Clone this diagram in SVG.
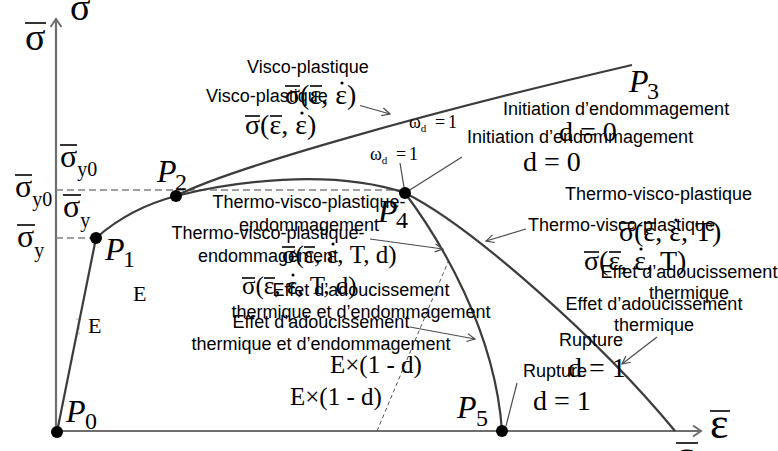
<svg xmlns="http://www.w3.org/2000/svg" width="778" height="451" viewBox="0 0 778 451">
<style>
.s{font-family:"Liberation Sans",Arial,sans-serif;font-size:18px;fill:#000}
.c{text-anchor:middle}
.m{font-family:"Liberation Serif","Times New Roman",serif;fill:#000}
.p{font-family:"Liberation Serif","Times New Roman",serif;font-style:italic;font-size:32px;fill:#000}
.sub{font-family:"Liberation Serif","Times New Roman",serif;font-size:24px;fill:#000}
.bar{stroke:#000;stroke-width:1.6}
.ax{stroke:#6e6e6e;stroke-width:2.2;fill:none}
.cv{stroke:#3c3c3c;stroke-width:2.2;fill:none}
.ld{stroke:#4a4a4a;stroke-width:1.2;fill:none}
.dh{stroke:#808080;stroke-width:1.6;stroke-dasharray:7 4;fill:none}
.dot{fill:#000}
</style>
<defs>
<marker id="ah" markerWidth="10" markerHeight="10" refX="9" refY="5" orient="auto" markerUnits="userSpaceOnUse"><path d="M1,1 L9,5 L1,9" fill="none" stroke="#4a4a4a" stroke-width="1.2"/></marker>
<marker id="axh" markerWidth="14" markerHeight="14" refX="12" refY="7" orient="auto" markerUnits="userSpaceOnUse"><path d="M4,1.5 L12,7 L4,12.5" fill="none" stroke="#6e6e6e" stroke-width="2"/></marker>
</defs>

<g id="axes">
<path class="ax" d="M56,432 V19" marker-end="url(#axh)"/>
<path class="ax" d="M56,431 H701" marker-end="url(#axh)"/>
</g>

<g id="connectors">
<path class="dh" d="M56,190 H405"/>
<path class="dh" d="M56,238 H96"/>
<path d="M377,431 L448,262" fill="none" stroke="#555" stroke-width="1" stroke-dasharray="4 3"/>
<path d="M76,319 H81 M79,322 V335" fill="none" stroke="#bbb" stroke-width="1" stroke-dasharray="3 2"/>
<path class="cv" d="M57,432 L96,238"/>
<path class="cv" d="M96,238 Q130,208 176,196 C230,182 330,168 405,193"/>
<path class="cv" d="M176,196 C230,168 430,112 632,65"/>
<path class="cv" d="M405,193 C440,240 495,330 502,431"/>
<path class="cv" d="M405,193 C470,225 600,340 675,431"/>
<path class="ld" d="M360,105.5 L390,114" marker-end="url(#ah)"/>
<path class="ld" d="M462,157 L405,193"/>
<path class="ld" d="M400,163 L405,193"/>
<path class="ld" d="M370,239 L443,249" marker-end="url(#ah)"/>
<path class="ld" d="M526,229 L486,241" marker-end="url(#ah)"/>
<path class="ld" d="M410,327 L475,339" marker-end="url(#ah)"/>
<path class="ld" d="M657,337 L622,364" marker-end="url(#ah)"/>
<path class="ld" d="M517,383 L506,426"/>
</g>

<g id="axis-labels">
<g transform="translate(70,20)"><text class="m" font-size="38">σ</text><line class="bar" x1="0" y1="-27" x2="21" y2="-27"/></g>
<g transform="translate(25,50)"><text class="m" font-size="38">σ</text><line class="bar" x1="0" y1="-27" x2="21" y2="-27"/></g>
<g transform="translate(710,438)"><text class="m" font-size="44">ε</text><line class="bar" x1="0" y1="-27" x2="20" y2="-27"/></g>
<g transform="translate(676,470)"><text class="m" font-size="44">ε</text><line class="bar" x1="0" y1="-27" x2="22" y2="-27"/></g>
<g transform="translate(60,167)"><text class="m" font-size="32">σ<tspan font-size="20" dy="9">y0</tspan></text><line class="bar" x1="0" y1="-22" x2="17" y2="-22"/></g>
<g transform="translate(15,197)"><text class="m" font-size="32">σ<tspan font-size="20" dy="9">y0</tspan></text><line class="bar" x1="0" y1="-22" x2="17" y2="-22"/></g>
<g transform="translate(63,217)"><text class="m" font-size="32">σ<tspan font-size="20" dy="10">y</tspan></text><line class="bar" x1="0" y1="-22" x2="18" y2="-22"/></g>
<g transform="translate(17,247)"><text class="m" font-size="32">σ<tspan font-size="20" dy="10">y</tspan></text><line class="bar" x1="0" y1="-22" x2="18" y2="-22"/></g>
</g>

<g id="P0"><circle class="dot" cx="57" cy="432" r="6"/><text class="p" x="66" y="422">P</text><text class="sub" x="85" y="429">0</text></g>
<g id="P1"><circle class="dot" cx="96" cy="238" r="6"/><text class="p" x="105" y="260">P</text><text class="sub" x="123" y="267">1</text></g>
<g id="P2"><circle class="dot" cx="176" cy="196" r="6"/><text class="p" x="157" y="182">P</text><text class="sub" x="175" y="190">2</text></g>
<g id="P3"><text class="p" x="629" y="92">P</text><text class="sub" x="647" y="99">3</text></g>
<g id="P4"><text class="p" x="378" y="222">P</text><text class="sub" x="396" y="228">4</text><circle class="dot" cx="405" cy="193" r="6"/></g>
<g id="P5"><circle class="dot" cx="502" cy="431" r="6"/><text class="p" x="457" y="418">P</text><text class="sub" x="476" y="426">5</text></g>

<g id="visco-plastique">
<text class="s" x="247" y="73">Visco-plastique</text>
<text class="s" x="206" y="102">Visco-plastique</text>
<g transform="translate(285,104)"><text class="m" font-size="28">σ(ε, ε)</text><line class="bar" x1="0" y1="-18" x2="15" y2="-18"/><line class="bar" x1="25" y1="-18" x2="37" y2="-18"/><circle cx="57" cy="-21" r="1.6"/></g>
<g transform="translate(245,134)"><text class="m" font-size="28">σ(ε, ε)</text><line class="bar" x1="0" y1="-18" x2="15" y2="-18"/><line class="bar" x1="25" y1="-18" x2="37" y2="-18"/><circle cx="57" cy="-21" r="1.6"/></g>
</g>

<g id="omega">
<text class="m" font-size="18" x="409" y="128">ω<tspan font-size="11" dy="4">d</tspan><tspan x="435" dy="-4">=</tspan><tspan x="448">1</tspan></text>
<text class="m" font-size="18" x="370" y="160">ω<tspan font-size="11" dy="4">d</tspan><tspan x="396" dy="-4">=</tspan><tspan x="409">1</tspan></text>
</g>

<g id="initiation">
<text class="s" x="503" y="115">Initiation d’endommagement</text>
<text class="m" font-size="28" x="559" y="141">d = 0</text>
<text class="s" x="467" y="143">Initiation d’endommagement</text>
<text class="m" font-size="28" x="523" y="171">d = 0</text>
</g>

<g id="tvp-endommagement">
<text class="s c" x="309" y="208">Thermo-visco-plastique-</text>
<text class="s c" x="309" y="231">endommagement</text>
<text class="s c" x="268" y="239">Thermo-visco-plastique-</text>
<text class="s c" x="268" y="262">endommagement</text>
<g transform="translate(282,263)"><text class="m" font-size="25">σ(ε, ε, T, d)</text><line class="bar" x1="0" y1="-16" x2="13" y2="-16"/><line class="bar" x1="22" y1="-16" x2="33" y2="-16"/><circle cx="51" cy="-19" r="1.5"/></g>
<g transform="translate(242,294)"><text class="m" font-size="25">σ(ε, ε, T, d)</text><line class="bar" x1="0" y1="-16" x2="13" y2="-16"/><line class="bar" x1="22" y1="-16" x2="33" y2="-16"/><circle cx="51" cy="-19" r="1.5"/></g>
</g>

<g id="adoucissement-endommagement">
<text class="s c" x="361" y="296">Effet d’adoucissement</text>
<text class="s c" x="361" y="318">thermique et d’endommagement</text>
<text class="s c" x="321" y="328">Effet d’adoucissement</text>
<text class="s c" x="321" y="350">thermique et d’endommagement</text>
</g>

<g id="tvp">
<text class="s" x="565" y="200">Thermo-visco-plastique</text>
<text class="s" x="528" y="231">Thermo-visco-plastique</text>
<g transform="translate(619,241)"><text class="m" font-size="28">σ(ε, ε, T)</text><line class="bar" x1="0" y1="-18" x2="15" y2="-18"/><line class="bar" x1="25" y1="-18" x2="37" y2="-18"/><circle cx="57" cy="-21" r="1.6"/></g>
<g transform="translate(584,270)"><text class="m" font-size="28">σ(ε, ε, T)</text><line class="bar" x1="0" y1="-18" x2="15" y2="-18"/><line class="bar" x1="25" y1="-18" x2="37" y2="-18"/><circle cx="57" cy="-21" r="1.6"/></g>
</g>

<g id="adoucissement">
<text class="s c" x="689" y="278">Effet d’adoucissement</text>
<text class="s c" x="689" y="299">thermique</text>
<text class="s c" x="654" y="310">Effet d’adoucissement</text>
<text class="s c" x="654" y="331">thermique</text>
</g>

<g id="rupture">
<text class="s" x="559" y="346">Rupture</text>
<text class="m" font-size="28" x="568" y="377">d = 1</text>
<text class="s" x="523" y="377">Rupture</text>
<text class="m" font-size="28" x="533" y="410">d = 1</text>
</g>

<g id="modulus">
<text class="m" font-size="22" x="133" y="301">E</text>
<text class="m" font-size="22" x="88" y="333">E</text>
<text class="m" font-size="25" x="330" y="373">E×(1 - d)</text>
<text class="m" font-size="25" x="290" y="405">E×(1 - d)</text>
</g>
</svg>
